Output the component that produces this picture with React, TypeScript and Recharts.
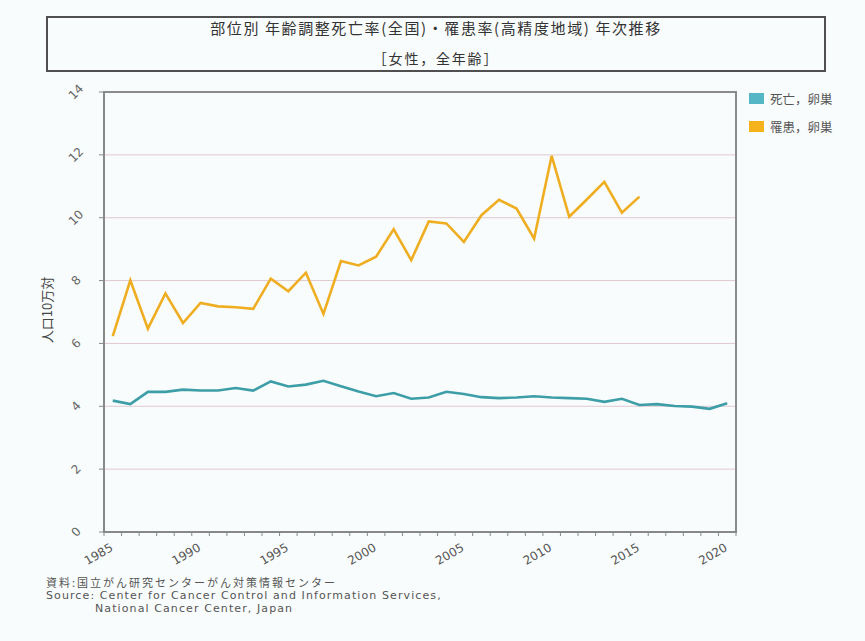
import { CartesianGrid, Line, LineChart, ReferenceArea, XAxis, YAxis } from "recharts";

const years = [
  1985, 1986, 1987, 1988, 1989, 1990, 1991, 1992, 1993, 1994, 1995, 1996,
  1997, 1998, 1999, 2000, 2001, 2002, 2003, 2004, 2005, 2006, 2007, 2008,
  2009, 2010, 2011, 2012, 2013, 2014, 2015, 2016, 2017, 2018, 2019, 2020,
];

// 死亡, 卵巣 (全国)
const deathRates = [
  4.18, 4.07, 4.46, 4.46, 4.53, 4.5, 4.5, 4.58, 4.5, 4.79, 4.63, 4.69,
  4.81, 4.64, 4.47, 4.32, 4.42, 4.24, 4.28, 4.46, 4.39, 4.29, 4.26, 4.28,
  4.32, 4.28, 4.26, 4.24, 4.14, 4.24, 4.04, 4.07, 4.01, 3.99, 3.92, 4.1,
];

// 罹患, 卵巣 (高精度地域) - up to 2015
const incidenceRates = [
  6.23, 8.01, 6.47, 7.59, 6.65, 7.29, 7.18, 7.15, 7.1, 8.06, 7.66, 8.25,
  6.94, 8.62, 8.48, 8.76, 9.63, 8.65, 9.88, 9.82, 9.23, 10.08, 10.57, 10.29,
  9.33, 11.97, 10.03, 10.58, 11.14, 10.16, 10.67,
];

const yTicks = [0, 2, 4, 6, 8, 10, 12, 14];

const seriesInfo = [
  { key: "death", name: "死亡，卵巣", line: "#3d9ea8", swatch: "#55b6c6" },
  { key: "incidence", name: "罹患，卵巣", line: "#efae22", swatch: "#f6b21c" },
];

const rows = years.map((year, i) => ({
  year,
  death: deathRates[i],
  incidence: i < incidenceRates.length ? incidenceRates[i] : null,
}));

// category boundaries, ticks sit between the years
const boundaries = [...years.map((y) => y - 0.5), years[years.length - 1] + 0.5];

const W = 865;
const H = 641;
const PLOT_LEFT = 104;
const PLOT_RIGHT = 736;
const HALF_STEP = (PLOT_RIGHT - PLOT_LEFT) / years.length / 2;

const tickFont = "'DejaVu Sans', Verdana, sans-serif";
const jpFont = "'Noto Sans CJK JP', sans-serif";

function YTick({ x, y, payload }: any) {
  return (
    <g transform={`translate(${x - 21},${y}) rotate(-45)`}>
      <text textAnchor="middle" dominantBaseline="central" fontSize={12} fill="#666" fontFamily={tickFont}>
        {payload.value}
      </text>
    </g>
  );
}

function XTick({ x, y, payload }: any) {
  const year = payload.value + 0.5;
  if (year % 5 !== 0) return null;
  return (
    <g transform={`translate(${x + HALF_STEP + 1},${y + 12}) rotate(-30)`}>
      <text textAnchor="end" fontSize={12} fill="#555" fontFamily={tickFont}>
        {year}
      </text>
    </g>
  );
}

export default function App() {
  return (
    <div style={{ position: "absolute", left: 0, top: 0, width: W, height: H, background: "#f9fcfc" }}>
      <div
        style={{
          position: "absolute",
          left: 46,
          top: 16,
          width: 776,
          height: 52,
          border: "2px solid #505050",
          fontFamily: jpFont,
          color: "#333",
          textAlign: "center",
        }}
      >
        <div style={{ position: "absolute", top: -1, width: "100%", fontSize: 15, letterSpacing: 1.6 }}>
          部位別 年齢調整死亡率(全国)・罹患率(高精度地域) 年次推移
        </div>
        <div style={{ position: "absolute", top: 30, width: "100%", fontSize: 14, letterSpacing: 1.8 }}>
          ［女性，全年齢］
        </div>
      </div>

      <LineChart width={W} height={H} data={rows} margin={{ top: 92, right: W - PLOT_RIGHT, bottom: 69, left: PLOT_LEFT - 40 }}>
        <CartesianGrid vertical={false} stroke="#dfc9cf" strokeWidth={1} />
        <XAxis
          dataKey="year"
          type="number"
          domain={[boundaries[0], boundaries[boundaries.length - 1]]}
          ticks={boundaries}
          interval={0}
          tick={<XTick />}
          tickSize={4}
          tickLine={{ stroke: "#888" }}
          axisLine={{ stroke: "#888", strokeWidth: 2 }}
          height={40}
        />
        <YAxis
          domain={[0, 14]}
          ticks={yTicks}
          interval={0}
          width={40}
          tick={<YTick />}
          tickSize={5}
          tickMargin={2}
          tickLine={{ stroke: "#888" }}
          axisLine={{ stroke: "#888", strokeWidth: 2 }}
        />
        <ReferenceArea
          x1={boundaries[0]}
          x2={boundaries[boundaries.length - 1]}
          y1={0}
          y2={14}
          fill="none"
          stroke="#8a8a8a"
          strokeWidth={2}
          fillOpacity={0}
        />
        {seriesInfo.map((s) => (
          <Line
            key={s.key}
            dataKey={s.key}
            name={s.name}
            stroke={s.line}
            strokeWidth={2.6}
            dot={false}
            type="linear"
            connectNulls={false}
            isAnimationActive={false}
          />
        ))}
      </LineChart>

      <div
        style={{
          position: "absolute",
          left: 46,
          top: 310,
          transform: "translate(-50%, -50%) rotate(-90deg)",
          transformOrigin: "center",
          fontFamily: jpFont,
          fontSize: 13,
          color: "#444",
          whiteSpace: "nowrap",
        }}
      >
        人口10万対
      </div>

      <div style={{ position: "absolute", left: 749, top: 91, fontFamily: jpFont, fontSize: 12.5, color: "#555" }}>
        {seriesInfo.map((s, i) => (
          <div key={s.key} style={{ display: "flex", alignItems: "center", height: 14, marginBottom: i === 0 ? 14 : 0 }}>
            <span style={{ display: "inline-block", width: 15, height: 11, background: s.swatch, marginRight: 6 }} />
            {s.name}
          </div>
        ))}
      </div>

      <div
        style={{
          position: "absolute",
          left: 46,
          top: 574,
          fontFamily: tickFont,
          fontSize: 11,
          lineHeight: "12.5px",
          letterSpacing: 1.1,
          color: "#555",
          whiteSpace: "nowrap",
        }}
      >
        <div style={{ fontFamily: jpFont, fontSize: 11, lineHeight: "16px", letterSpacing: 2 }}>
          資料:国立がん研究センターがん対策情報センター
        </div>
        <div>Source: Center for Cancer Control and Information Services,</div>
        <div style={{ paddingLeft: 49 }}>National Cancer Center, Japan</div>
      </div>
    </div>
  );
}
